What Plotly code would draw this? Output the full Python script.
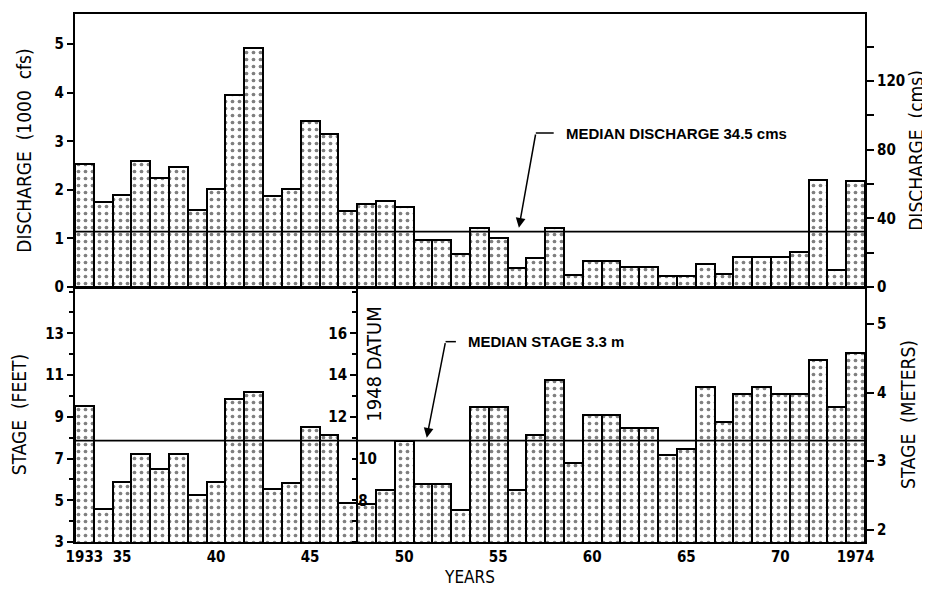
import plotly.graph_objects as go

# ---------------- data ----------------
years = list(range(1933, 1975))
discharge_kcfs = [2.53, 1.75, 1.90, 2.59, 2.24, 2.47, 1.59, 2.02, 3.96, 4.93, 1.88, 2.01, 3.42,
                  3.14, 1.56, 1.71, 1.78, 1.64, 0.96, 0.96, 0.67, 1.21, 1.01, 0.40, 0.60, 1.21,
                  0.24, 0.53, 0.53, 0.41, 0.41, 0.22, 0.22, 0.48, 0.27, 0.62, 0.62, 0.62, 0.71,
                  2.21, 0.34, 2.19]
stage_ft = [9.53, 4.60, 5.88, 7.21, 6.52, 7.21, 5.27, 5.88, 9.85, 10.17, 5.56, 5.85, 8.49,
            8.15, 4.87, 4.81, 5.48, 7.86, 5.80, 5.80, 4.55, 9.45, 9.45, 5.48, 8.12, 10.76,
            6.79, 9.11, 9.11, 8.44, 8.44, 7.16, 7.48, 10.41, 8.76, 10.07, 10.41, 10.07, 10.07,
            11.72, 9.45, 12.04]
year_tickvals = [1933, 1935, 1940, 1945, 1950, 1955, 1960, 1965, 1970, 1974]
year_ticktext = ["1933", "35", "40", "45", "50", "55", "60", "65", "70", "1974"]
feet_tickvals = [3, 5, 7, 9, 11, 13]
kcfs_tickvals = [0, 1, 2, 3, 4, 5]
cms_tickvals = [0, 40, 80, 120]
meter_tickvals = [2, 3, 4, 5]
datum_tickvals_left = [12, 14, 16]
datum_tickvals_right = [8, 10]
median_discharge_kcfs = 1.14     # drawn level of "MEDIAN DISCHARGE 34.5 cms"
median_stage_ft = 7.86           # drawn level of "MEDIAN STAGE 3.3 m"
CMS_PER_KCFS = 28.317
M_PER_FT = 0.3048
METER_OFFSET = 0.904             # meters-scale offset
DATUM_1948_OFFSET_FT = 3.0       # 1948 datum = feet + 3
datum_year = 1948

# ---------------- ranges ----------------
q_range = [0, 5.62]
s_range = [3, 15.22]
cms_range = [v * CMS_PER_KCFS for v in q_range]
m_range = [v * M_PER_FT + METER_OFFSET for v in s_range]
datum_range = [v + DATUM_1948_OFFSET_FT for v in s_range]
x_range = [years[0] - 0.5, years[-1] + 0.5]
datum_pos = (datum_year - 0.5 - x_range[0]) / (x_range[1] - x_range[0])

discharge_cms = [v * CMS_PER_KCFS for v in discharge_kcfs]
stage_m = [v * M_PER_FT + METER_OFFSET for v in stage_ft]
stage_datum = [v + DATUM_1948_OFFSET_FT for v in stage_ft]

NARROW = "Liberation Sans Narrow, DejaVu Sans Condensed, Arial Narrow, Liberation Sans, sans-serif"
BOLD = "Liberation Sans, Arial, Helvetica, sans-serif"
tickfont = dict(family=NARROW, size=15, color="black", weight="bold")
titlefont = dict(family=NARROW, size=19, color="black")

bar_marker = dict(color="white", line=dict(color="black", width=2),
                  pattern=dict(shape=".", fgcolor="black", bgcolor="white", size=7, solidity=0.22))

fig = go.Figure()
fig.add_trace(go.Bar(x=years, y=discharge_kcfs, xaxis="x2", yaxis="y2",
                     marker=bar_marker, showlegend=False, hoverinfo="x+y"))
fig.add_trace(go.Bar(x=years, y=stage_ft, xaxis="x", yaxis="y",
                     marker=bar_marker, showlegend=False, hoverinfo="x+y"))
# same data on the secondary scales (invisible; they carry the extra axes)
for yy, xa, ya in [(discharge_cms, "x2", "y3"), (stage_m, "x", "y4"),
                   (stage_datum, "x", "y5"), (stage_datum, "x", "y6")]:
    fig.add_trace(go.Scatter(x=years, y=yy, xaxis=xa, yaxis=ya, mode="markers",
                             marker=dict(opacity=0, size=1), showlegend=False, hoverinfo="skip"))

ax_common = dict(showgrid=False, zeroline=False, showline=True, linecolor="black",
                 linewidth=2, tickcolor="black", tickwidth=1.5, tickfont=tickfont)

split = 0.483
# page body adds an 8px offset; size the figure so the plot box lands where the reference has it
fig.update_layout(
    width=922, height=582,
    margin=dict(l=67, r=65, t=6, b=48, autoexpand=False),
    paper_bgcolor="white", plot_bgcolor="white",
    bargap=0,
    xaxis=dict(domain=[0, 1], range=x_range, anchor="y", tickvals=year_tickvals,
               ticktext=year_ticktext, ticks="", **ax_common,
               title=dict(text="YEARS", font=dict(family=NARROW, size=17, color="black"), standoff=6)),
    xaxis2=dict(domain=[0, 1], range=x_range, anchor="y2", matches="x",
                showticklabels=False, ticks="", mirror=True,
                **{k: v for k, v in ax_common.items() if k != "tickfont"}),
    yaxis=dict(domain=[0, split], range=s_range, anchor="x", tickvals=feet_tickvals,
               ticks="outside", ticklen=6,
               minor=dict(dtick=1, tick0=0, ticks="outside", ticklen=4, tickcolor="black"),
               **ax_common, title=dict(text="STAGE  (FEET)", font=titlefont, standoff=18)),
    yaxis2=dict(domain=[split, 1], range=q_range, anchor="x2", tickvals=kcfs_tickvals,
                ticks="outside", ticklen=6, **ax_common,
                title=dict(text="DISCHARGE  (1000  cfs)", font=titlefont, standoff=18)),
    yaxis3=dict(overlaying="y2", anchor="x2", side="right", range=cms_range,
                tickvals=cms_tickvals, ticks="outside", ticklen=7,
                minor=dict(dtick=20, tick0=0, ticks="outside", ticklen=7, tickcolor="black"),
                **ax_common, title=dict(text="DISCHARGE  (cms)", font=titlefont, standoff=5)),
    yaxis4=dict(overlaying="y", anchor="x", side="right", range=m_range,
                tickvals=meter_tickvals, ticks="outside", ticklen=7, **ax_common,
                title=dict(text="STAGE  (METERS)", font=titlefont, standoff=16)),
    yaxis5=dict(overlaying="y", anchor="free", position=datum_pos, side="left",
                range=datum_range, tickvals=datum_tickvals_left,
                ticks="outside", ticklen=6,
                minor=dict(dtick=1, tick0=0, ticks="outside", ticklen=4, tickcolor="black"),
                **ax_common),
    yaxis6=dict(overlaying="y", anchor="free", position=datum_pos, side="right",
                range=datum_range, tickvals=datum_tickvals_right,
                ticks="", showgrid=False, zeroline=False, showline=False, tickfont=tickfont),
)

# median lines
fig.add_shape(type="line", xref="paper", x0=0, x1=1, yref="y2",
              y0=median_discharge_kcfs, y1=median_discharge_kcfs,
              line=dict(color="black", width=1.6), layer="above")
fig.add_shape(type="line", xref="paper", x0=0, x1=1, yref="y",
              y0=median_stage_ft, y1=median_stage_ft,
              line=dict(color="black", width=1.6), layer="above")

# callouts
def callout(text, yref, text_x, text_y, kink_x, tip_x, tip_y):
    fig.add_shape(type="line", xref="x", yref=yref, x0=kink_x, x1=text_x - 0.55,
                  y0=text_y, y1=text_y, line=dict(color="black", width=1.5))
    fig.add_annotation(x=tip_x, y=tip_y, xref="x", yref=yref, ax=kink_x, ay=text_y,
                       axref="x", ayref=yref, text="", showarrow=True,
                       arrowhead=2, arrowsize=1.3, arrowwidth=1.5, arrowcolor="black")
    fig.add_annotation(x=text_x, y=text_y, xref="x", yref=yref, text=text, showarrow=False,
                       xanchor="left", yanchor="middle",
                       font=dict(family=BOLD, size=15, color="black", weight="bold"))

callout("MEDIAN DISCHARGE 34.5 cms", "y2", 1958.5, 3.17, 1957.0, 1956.1, 1.22)
callout("MEDIAN STAGE 3.3 m", "y", 1953.3, 12.6, 1952.2, 1951.2, 8.0)

# 1948 datum label
fig.add_annotation(x=datum_year - 0.5, y=11.5, xref="x", yref="y", text="1948 DATUM",
                   textangle=-90, showarrow=False, xanchor="left", yanchor="middle", xshift=2,
                   font=dict(family=NARROW, size=20, color="black"))

fig.write_html("out.html")
